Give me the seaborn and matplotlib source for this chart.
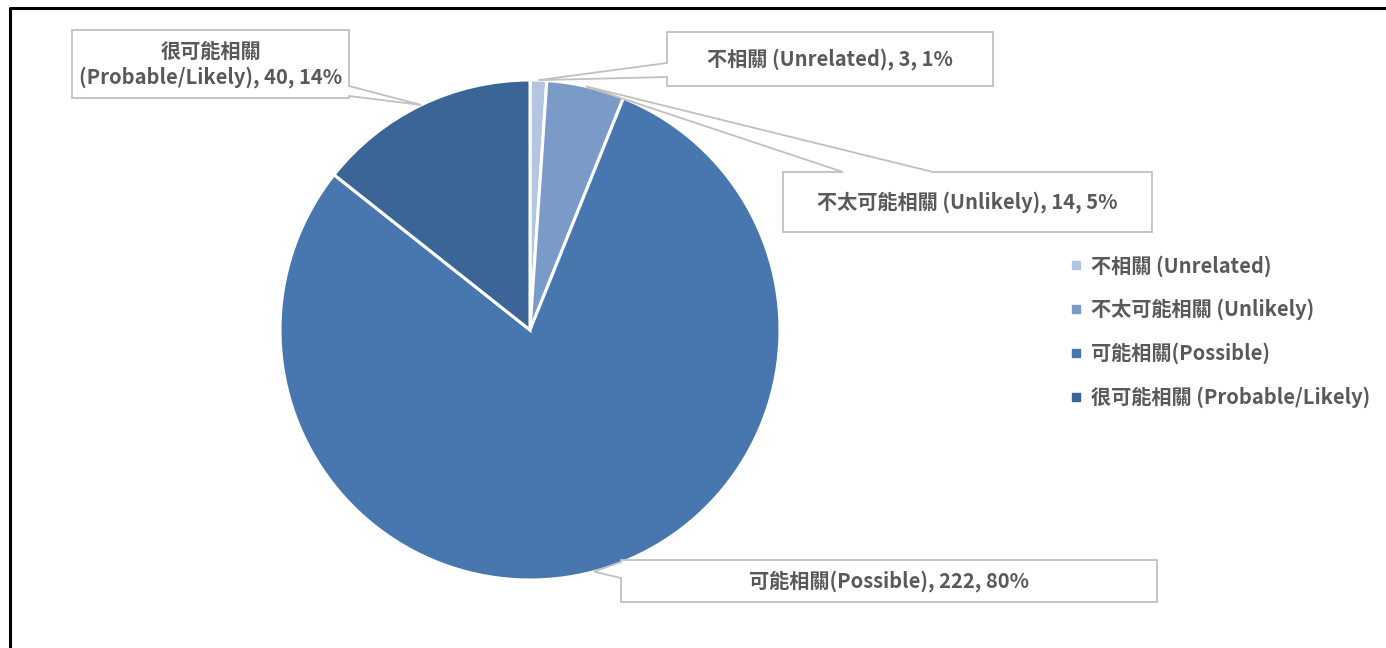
import matplotlib
matplotlib.use("Agg")
import matplotlib.pyplot as plt
from matplotlib.patches import Polygon
from matplotlib.lines import Line2D
import numpy as np
import seaborn as sns

sns.set_theme(style="white")
plt.rcParams["font.family"] = ["Noto Sans CJK TC", "DejaVu Sans"]

# Data
categories = ["不相關 (Unrelated)", "不太可能相關 (Unlikely)", "可能相關(Possible)", "很可能相關 (Probable/Likely)"]
values = [3, 14, 222, 40]
colors = ["#b4c5e1", "#7a9bc8", "#4876ae", "#3b6596"]

TEXT = "#595959"
EDGE = "#c0c0c0"
FS = 14.5
W, H = 1386, 648

fig = plt.figure(figsize=(W / 100, H / 100), dpi=100)
fig.patch.set_facecolor("white")

# Pie axes: centre (530, 330) px, radius 250 px
cx, cy, r = 530, 330, 250
ax = fig.add_axes([(cx - r) / W, (H - cy - r) / H, 2 * r / W, 2 * r / H])
wedges, _ = ax.pie(values, colors=colors, startangle=90, counterclock=False,
                   radius=1.0, wedgeprops=dict(edgecolor="white", linewidth=2.2))
ax.set_xlim(-1, 1)
ax.set_ylim(-1, 1)
ax.set_aspect("equal")
ax.axis("off")

# Overlay axes in pixel coordinates (y downward) for callouts
ov = fig.add_axes([0, 0, 1, 1])
ov.set_xlim(0, W)
ov.set_ylim(H, 0)
ov.axis("off")

total = sum(values)


def tip_point(w):
    mid = np.deg2rad((w.theta1 + w.theta2) / 2)
    p = (w.r * np.cos(mid), w.r * np.sin(mid))
    disp = ax.transData.transform(p)
    return ov.transData.inverted().transform(disp)


def callout(box, side, a, b, tip):
    x0, y0, x1, y1 = box
    tx, ty = tip
    if side == "left":
        pts = [(x0, y0), (x1, y0), (x1, y1), (x0, y1), (x0, b), (tx, ty), (x0, a)]
    elif side == "right":
        pts = [(x0, y0), (x1, y0), (x1, a), (tx, ty), (x1, b), (x1, y1), (x0, y1)]
    else:  # top
        pts = [(x0, y0), (a, y0), (tx, ty), (b, y0), (x1, y0), (x1, y1), (x0, y1)]
    ov.add_patch(Polygon(pts, closed=True, facecolor="white", edgecolor=EDGE,
                         linewidth=1.3, joinstyle="miter", zorder=3))


labels = []
for cat, v in zip(categories, values):
    labels.append(f"{cat}, {v}, {round(v / total * 100)}%")
labels[3] = labels[3].replace(" (", "\n(", 1)

# box (x0, y0, x1, y1), wedge side, wedge base span
layout = [
    ((667, 32, 993, 86), "left", 63, 77),
    ((783, 172, 1152, 232), "top", 843, 933),
    ((621, 560, 1157, 602), "left", 562, 578),
    ((72, 30, 349, 98), "right", 86, 96),
]

for w, lab, (box, side, a, b) in zip(wedges, labels, layout):
    tip = tip_point(w)
    callout(box, side, a, b, tip)
    ov.text((box[0] + box[2]) / 2, (box[1] + box[3]) / 2, lab, ha="center", va="center",
            fontsize=FS, fontweight="bold", color=TEXT, linespacing=1.25, zorder=4)

# Legend
handles = [Line2D([0], [0], marker="s", linestyle="", markersize=6,
                  markerfacecolor=c, markeredgecolor=c) for c in colors]
fig.legend(handles, categories, loc="upper left", bbox_to_anchor=(1060 / W, 1 - 245 / H),
           frameon=False, labelcolor=TEXT, handlelength=0.6,
           handletextpad=0.45, labelspacing=1.1, borderpad=0,
           prop=dict(weight="bold", size=FS))

# Outer frame (left and top edges)
fig.add_artist(Line2D([10 / W, 10 / W, 1.0], [0.0, 1 - 8 / H, 1 - 8 / H],
                      transform=fig.transFigure, color="black", linewidth=2.2))

fig.savefig("out.png", dpi=100)
